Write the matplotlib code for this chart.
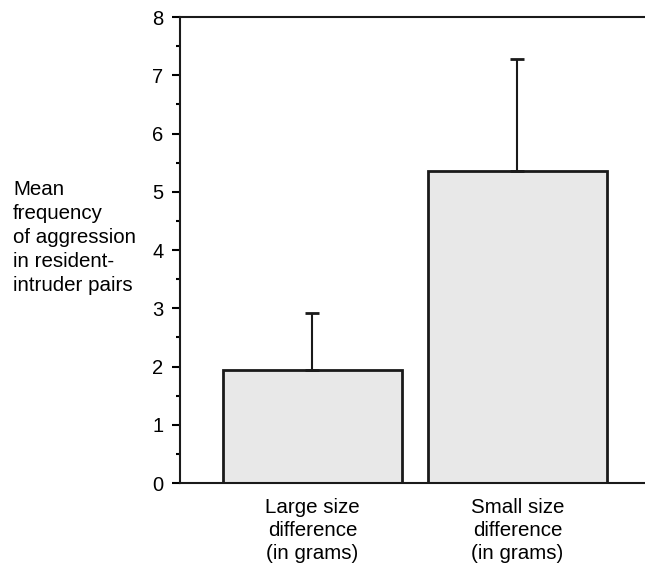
import matplotlib.pyplot as plt
import numpy as np

plt.rcParams['font.family'] = ['Liberation Sans', 'DejaVu Sans']

# data
groups = ['Large size\ndifference\n(in grams)', 'Small size\ndifference\n(in grams)']
means = [1.94, 5.36]
errors = [0.98, 1.92]
y_ticks = [0, 1, 2, 3, 4, 5, 6, 7, 8]

fig = plt.figure(figsize=(6.45, 5.67), dpi=100)
ax = fig.add_axes([0.279, 0.148, 0.721, 0.822])

x = np.arange(len(groups))
ax.bar(x, means, width=0.873, color='#e8e8e8', edgecolor='#1a1a1a', linewidth=2)
ax.errorbar(x, means, yerr=[np.zeros(len(errors)), errors], fmt='none',
            ecolor='#1a1a1a', elinewidth=1.5, capsize=5, capthick=2)

ax.set_xlim(-0.646, 1.622)
ax.set_ylim(0, 8)
ax.set_yticks(y_ticks)
ax.set_yticks(np.arange(0.5, 8, 1), minor=True)
ax.set_xticks(x)
ax.set_xticklabels(groups, fontsize=14.8, linespacing=1.24)
ax.tick_params(axis='x', length=0, pad=11)
ax.tick_params(axis='y', which='major', length=6, width=1.5, labelsize=14.5, pad=6)
ax.tick_params(axis='y', which='minor', length=3, width=1.5)

ax.spines['right'].set_visible(False)
for s in ['left', 'top', 'bottom']:
    ax.spines[s].set_linewidth(1.5)
    ax.spines[s].set_color('#1a1a1a')

fig.text(0.02, 0.682, 'Mean\nfrequency\nof aggression\nin resident-\nintruder pairs',
         fontsize=14.8, ha='left', va='top', linespacing=1.32)

plt.savefig('out.png', dpi=100)
